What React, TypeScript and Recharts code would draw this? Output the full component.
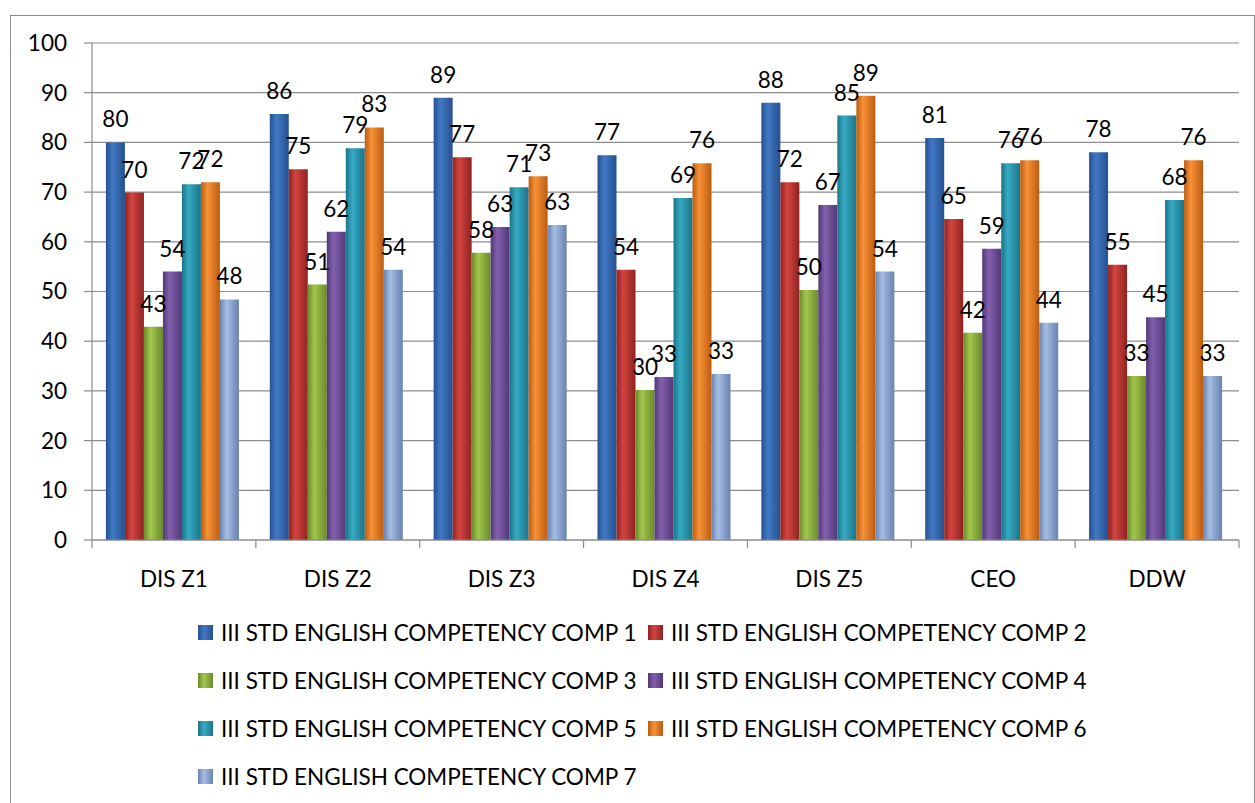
import { BarChart, Bar, XAxis, YAxis, CartesianGrid, LabelList } from "recharts";

const categories = ["DIS Z1", "DIS Z2", "DIS Z3", "DIS Z4", "DIS Z5", "CEO", "DDW"];

const comp1 = [80, 85.7, 89, 77.4, 88, 80.9, 78];
const comp2 = [69.9, 74.6, 77, 54.4, 72, 64.6, 55.4];
const comp3 = [42.9, 51.4, 57.8, 30.2, 50.3, 41.7, 33];
const comp4 = [54, 62, 63, 32.8, 67.4, 58.6, 44.8];
const comp5 = [71.6, 78.8, 71, 68.8, 85.4, 75.8, 68.4];
const comp6 = [72, 83, 73.2, 75.8, 89.4, 76.4, 76.4];
const comp7 = [48.4, 54.4, 63.4, 33.4, 54, 43.7, 33];

const seriesNames = [
  "III STD ENGLISH COMPETENCY COMP 1",
  "III STD ENGLISH COMPETENCY COMP 2",
  "III STD ENGLISH COMPETENCY COMP 3",
  "III STD ENGLISH COMPETENCY COMP 4",
  "III STD ENGLISH COMPETENCY COMP 5",
  "III STD ENGLISH COMPETENCY COMP 6",
  "III STD ENGLISH COMPETENCY COMP 7",
];
const seriesValues = [comp1, comp2, comp3, comp4, comp5, comp6, comp7];

const yTicks = [0, 10, 20, 30, 40, 50, 60, 70, 80, 90, 100];

// [dark edge, light centre]
const COLORS = [
  ["#24508f", "#4279c4"],
  ["#8e2321", "#d4443f"],
  ["#6a8a2a", "#a2c64e"],
  ["#513878", "#8360ad"],
  ["#1b7387", "#35abc4"],
  ["#bb5c10", "#f89238"],
  ["#6882b0", "#a6bde3"],
];

const FONT = "Lato, 'Open Sans', sans-serif";
const FS = 22.5;
const GRID = "#8c8c8c";

const W = 1255;
const H = 803;
const PLOT_LEFT = 92;
const PLOT_RIGHT = 1239;
const PLOT_TOP = 43;
const PLOT_BOTTOM = 540;

const data = categories.map((c, i) => {
  const row: Record<string, string | number> = { name: c };
  seriesValues.forEach((vals, s) => {
    row["s" + s] = vals[i];
  });
  return row;
});

function XTick(props: any) {
  const { x, payload, index } = props;
  const half = payload.offset || (PLOT_RIGHT - PLOT_LEFT) / categories.length / 2;
  const axisY = PLOT_BOTTOM;
  return (
    <g>
      <line x1={x - half} x2={x - half} y1={axisY} y2={axisY + 8} stroke={GRID} strokeWidth={1.2} />
      {index === categories.length - 1 && (
        <line x1={x + half} x2={x + half} y1={axisY} y2={axisY + 8} stroke={GRID} strokeWidth={1.2} />
      )}
      <text x={x} y={axisY + 38} textAnchor="middle" dominantBaseline="central" fontSize={FS} fill="#000" fontFamily={FONT}>
        {payload.value}
      </text>
    </g>
  );
}

export default function App() {
  return (
    <div style={{ position: "absolute", left: 0, top: 0, width: W, height: H, background: "#fff", overflow: "hidden", fontFamily: FONT }}>
      <div style={{ position: "absolute", left: 10, top: 15, width: 1243, height: 800, border: "1px solid #8c8c8c" }} />
      <BarChart
        width={W}
        height={PLOT_BOTTOM + 80}
        data={data}
        margin={{ top: PLOT_TOP, right: W - PLOT_RIGHT, left: 12, bottom: 0 }}
        barCategoryGap="8.5%"
        barGap={0}
        style={{ position: "absolute", left: 0, top: 0 }}
      >
        <defs>
          {COLORS.map((c, i) => (
            <linearGradient key={i} id={"g" + i} x1="0" x2="1" y1="0" y2="0">
              <stop offset="0%" stopColor={c[0]} />
              <stop offset="35%" stopColor={c[1]} />
              <stop offset="100%" stopColor={c[0]} />
            </linearGradient>
          ))}
        </defs>
        <CartesianGrid vertical={false} stroke={GRID} strokeWidth={1.2} />
        <XAxis
          dataKey="name"
          height={80}
          axisLine={{ stroke: GRID, strokeWidth: 1.2 }}
          tickLine={false}
          tick={<XTick />}
          interval={0}
        />
        <YAxis
          width={80}
          domain={[0, 100]}
          ticks={yTicks}
          interval={0}
          tickSize={8}
          tickMargin={17}
          axisLine={{ stroke: GRID, strokeWidth: 1.2 }}
          tickLine={{ stroke: GRID, strokeWidth: 1.2 }}
          tick={{ fill: "#000", fontSize: FS, fontFamily: FONT }}
        />
        {seriesNames.map((n, i) => (
          <Bar key={n} dataKey={"s" + i} name={n} fill={`url(#g${i})`} isAnimationActive={false}>
            <LabelList
              dataKey={"s" + i}
              position="top"
              offset={15}
              formatter={(v: any) => Math.round(Number(v))}
              style={{ fill: "#000", fontSize: FS, fontFamily: FONT }}
            />
          </Bar>
        ))}
      </BarChart>
      {seriesNames.map((n, i) => (
        <div
          key={n}
          style={{
            position: "absolute",
            left: i % 2 === 0 ? 198 : 648,
            top: 632 + Math.floor(i / 2) * 48 - 14,
            height: 28,
            display: "flex",
            alignItems: "center",
            fontSize: FS,
            color: "#000",
            whiteSpace: "nowrap",
          }}
        >
          <span
            style={{
              width: 15,
              height: 15,
              marginRight: 8,
              background: `linear-gradient(90deg, ${COLORS[i][0]}, ${COLORS[i][1]} 40%, ${COLORS[i][0]})`,
            }}
          />
          {n}
        </div>
      ))}
    </div>
  );
}
